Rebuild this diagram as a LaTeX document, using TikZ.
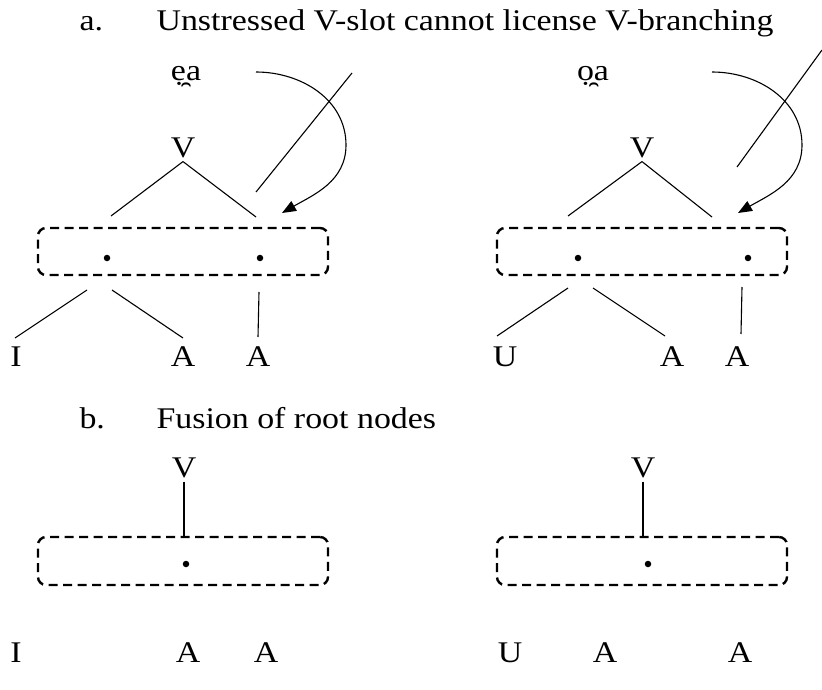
\documentclass[tikz,border=0pt]{standalone}
\usepackage{fontspec}
\setmainfont{Liberation Serif}[FakeStretch=1.13]
\usetikzlibrary{arrows.meta, positioning}

\begin{document}
\begin{tikzpicture}[
    x=1pt, y=-1pt,
    font=\fontsize{30}{34}\selectfont,
    slot/.style = {draw, line width=2.4pt, dash pattern=on 9pt off 5.5pt,
                   rounded corners=8pt, minimum width=290pt, minimum height=47pt},
    dot/.style = {circle, fill, inner sep=0pt, minimum size=6.5pt},
    ln/.style = {black, line width=1.1pt},
    pil/.style = {black, line width=1.1pt, -{Triangle[length=14pt,width=11pt]}},
    ]
    \useasboundingbox (0,0) rectangle (822,690);

    %nodes (a)
    \node[anchor=base west] (labA) at (76,31) {a.};
    \node[anchor=base west] (titleA) at (153,31)
        {Unstressed V-slot cannot license V-branching};

    \node (eaL) at (186,77) {ẹ̯a};
    \node (VL) at (183,148) {V};
    \node[slot] (boxL) at (183,251.5) {};
    \node[dot] (dL1) at (107,258) {};
    \node[dot] (dL2) at (260,258) {};
    \node (IL) at (16,357) {I};
    \node (AL1) at (183,357) {A};
    \node (AL2) at (258,357) {A};

    \node (oaR) at (593,77) {ọ̯a};
    \node (VR) at (642,148) {V};
    \node[slot] (boxR) at (642,251.5) {};
    \node[dot] (dR1) at (578,258) {};
    \node[dot] (dR2) at (748,258) {};
    \node (UR) at (505,357) {U};
    \node (AR1) at (672,357) {A};
    \node (AR2) at (737,357) {A};

    % free ends
    \coordinate (vlL) at (111,216);   \coordinate (vrL) at (256,217);
    \coordinate (arcL) at (256,72);   \coordinate (bulgeL) at (346,145);
    \coordinate (tipL) at (282,213);
    \coordinate (cutL1) at (352,73);  \coordinate (cutL2) at (256,192);
    \coordinate (lo1L) at (87,290);   \coordinate (lo2L) at (112,290);
    \coordinate (lo3L) at (259,292);
    \coordinate (ft1L) at (15,338);   \coordinate (ft2L) at (183,338);
    \coordinate (ft3L) at (258,337);

    \coordinate (vlR) at (568,216);   \coordinate (vrR) at (712,217);
    \coordinate (arcR) at (712,72);   \coordinate (bulgeR) at (802,145);
    \coordinate (tipR) at (738,213);
    \coordinate (cutR1) at (822,50);  \coordinate (cutR2) at (737,167);
    \coordinate (lo1R) at (568,288);  \coordinate (lo2R) at (593,288);
    \coordinate (lo3R) at (742,287);
    \coordinate (ft1R) at (497,336);  \coordinate (ft2R) at (665,336);
    \coordinate (ft3R) at (741,334);

    % edges (a)
    \draw[ln] (VL.south) -- (vlL)  (VL.south) -- (vrL)
              (cutL1) -- (cutL2)
              (lo1L) -- (ft1L)  (lo2L) -- (ft2L)  (lo3L) -- (ft3L);
    \draw[pil] (arcL) to[out=0,in=90] (bulgeL) to[out=-90,in=30] (tipL);

    \draw[ln] (VR.south) -- (vlR)  (VR.south) -- (vrR)
              (cutR1) -- (cutR2)
              (lo1R) -- (ft1R)  (lo2R) -- (ft2R)  (lo3R) -- (ft3R);
    \draw[pil] (arcR) to[out=0,in=90] (bulgeR) to[out=-90,in=30] (tipR);

    %nodes (b)
    \node[anchor=base west] (labB) at (76,428) {b.};
    \node[anchor=base west] (titleB) at (153,428) {Fusion of root nodes};

    \node (VbL) at (184,468) {V};
    \node[slot, minimum height=48pt] (boxbL) at (183,561) {};
    \node[dot] (dbL) at (186,564) {};
    \node (IbL) at (16,653) {I};
    \node (AbL1) at (188,653) {A};
    \node (AbL2) at (266,653) {A};

    \node (VbR) at (643,468) {V};
    \node[slot, minimum height=48pt] (boxbR) at (642,561) {};
    \node[dot] (dbR) at (648,564) {};
    \node (UbR) at (510,653) {U};
    \node (AbR1) at (605,653) {A};
    \node (AbR2) at (740,653) {A};

    % edges (b)
    \draw[ln] (VbL.south) -- (VbL.south |- boxbL.north)
              (VbR.south) -- (VbR.south |- boxbR.north);
\end{tikzpicture}
\end{document}
